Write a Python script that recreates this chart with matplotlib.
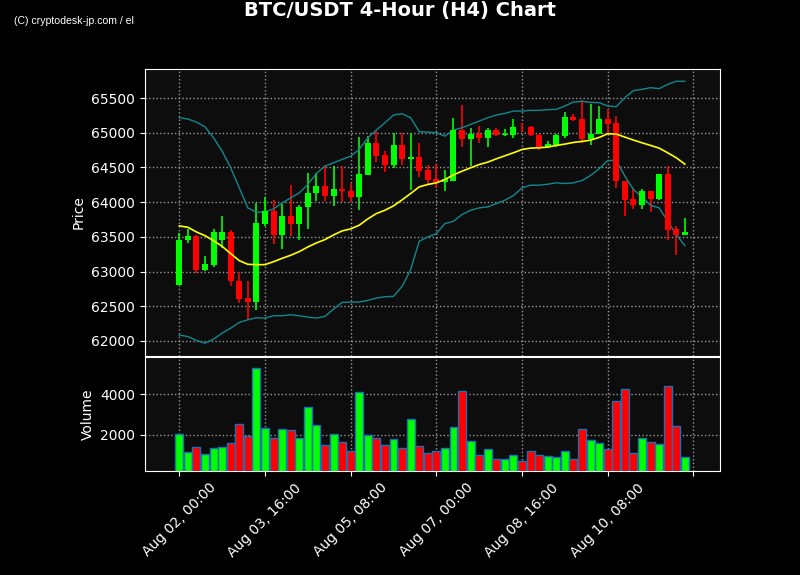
import matplotlib
matplotlib.use("Agg")
import matplotlib.pyplot as plt
import numpy as np

# ---- data ----
opens = [62810, 63450, 63517, 63027, 63099, 63450, 63575, 62868, 62622, 62555,
         63691, 63874, 63522, 63806, 63681, 63931, 64133, 64239, 64095, 64196,
         64157, 64071, 64388, 64846, 64672, 64533, 64817, 64624, 64643, 64456,
         64326, 64287, 64311, 65033, 64913, 64975, 64918, 65043, 64961, 64966,
         65086, 65086, 64966, 64797, 64817, 64951, 65231, 65192, 64903, 64975,
         65202, 65134, 64311, 64047, 63965, 64167, 64052, 64398, 63614, 63532]
closes = [63460, 63517, 63027, 63113, 63575, 63575, 62858, 62603, 62555, 63700,
          63874, 63522, 63806, 63681, 63936, 64133, 64239, 64095, 64196, 64157,
          64071, 64398, 64846, 64663, 64533, 64817, 64624, 64643, 64446, 64316,
          64287, 64326, 65033, 64913, 64975, 64918, 65043, 64971, 64975, 65086,
          65077, 64966, 64783, 64831, 64961, 65231, 65182, 64903, 64985, 65202,
          65120, 64302, 64037, 63965, 64167, 64052, 64398, 63604, 63532, 63570]
highs = [63556, 63614, 63520, 63229, 63614, 63806, 63594, 63000, 62863, 63989,
         64076, 64028, 63975, 64244, 63965, 64422, 64422, 64533, 64518, 64518,
         64278, 64932, 64951, 65024, 64735, 65000, 65000, 65000, 64846, 64533,
         64552, 64470, 65216, 65404, 65072, 65096, 65072, 65062, 65048, 65192,
         65144, 65096, 64975, 64874, 64985, 65303, 65274, 65471, 65409, 65385,
         65336, 65240, 64311, 64206, 64191, 64167, 64408, 64518, 63652, 63773]
lows = [62800, 63412, 62979, 63003, 63065, 63339, 62786, 62545, 62305, 62449,
        63652, 63402, 63325, 63517, 63460, 63614, 64013, 64013, 63951, 63999,
        63999, 63893, 64388, 64581, 64437, 64485, 64542, 64181, 64364, 64254,
        64210, 64157, 64311, 64797, 64518, 64855, 64793, 64951, 64951, 64927,
        65009, 64951, 64745, 64783, 64797, 64927, 65168, 64846, 64822, 64975,
        64990, 64206, 63797, 63902, 63902, 63854, 64037, 63450, 63243, 63532]
volumes = [2049, 1122, 1415, 1024, 1366, 1415, 1610, 2537, 1951, 5317,
           2341, 1821, 2293, 2211, 1854, 3366, 2488, 1512, 2049, 1659,
           1171, 4098, 2000, 1821, 1512, 1805, 1333, 2780, 1463, 1073,
           1220, 1366, 2390, 4146, 1707, 976, 1317, 780, 780, 976,
           683, 1220, 976, 927, 878, 1220, 780, 2293, 1756, 1610,
           1317, 3659, 4244, 1073, 1854, 1659, 1561, 4390, 2439, 878]
sma = [63657, 63638, 63570, 63517, 63445, 63363, 63258, 63157, 63104, 63099,
       63099, 63142, 63190, 63234, 63287, 63354, 63412, 63460, 63527, 63585,
       63614, 63667, 63758, 63835, 63883, 63946, 64032, 64124, 64220, 64254,
       64278, 64326, 64393, 64446, 64494, 64542, 64576, 64624, 64668, 64711,
       64759, 64778, 64783, 64793, 64817, 64836, 64860, 64874, 64894, 64932,
       64985, 64980, 64937, 64894, 64855, 64817, 64778, 64711, 64639, 64547]
upper = [65216, 65197, 65154, 65086, 64927, 64735, 64494, 64206, 63917, 63854,
         63859, 63902, 63989, 64061, 64133, 64254, 64412, 64518, 64567, 64615,
         64663, 64759, 64927, 65038, 65144, 65255, 65274, 65216, 65014, 65009,
         65000, 64951, 65038, 65072, 65120, 65168, 65216, 65255, 65279, 65312,
         65312, 65322, 65322, 65332, 65336, 65385, 65442, 65452, 65437, 65433,
         65385, 65375, 65505, 65606, 65625, 65649, 65635, 65697, 65741, 65741]
lower = [62084, 62064, 62007, 61968, 62026, 62112, 62184, 62266, 62305, 62334,
         62329, 62363, 62363, 62377, 62363, 62343, 62329, 62353, 62459, 62555,
         62560, 62560, 62584, 62618, 62637, 62642, 62786, 63027, 63436, 63498,
         63546, 63691, 63724, 63821, 63883, 63917, 63931, 63979, 64028, 64095,
         64206, 64244, 64244, 64258, 64278, 64268, 64278, 64311, 64384, 64480,
         64600, 64600, 64374, 64182, 64071, 63955, 63917, 63724, 63532, 63373]
tick_labels = ["Aug 02, 00:00", "Aug 03, 16:00", "Aug 05, 08:00",
               "Aug 07, 00:00", "Aug 08, 16:00", "Aug 10, 08:00", ""]
price_ticks = [62000, 62500, 63000, 63500, 64000, 64500, 65000, 65500]
volume_ticks = [2000, 4000]

# ---- styling ----
UP = "#00ff00"
DOWN = "#ff0000"
BAND = "#13878c"
GRID = dict(color="#b0b0b0", linestyle=":", linewidth=1.0, alpha=0.85)

fig = plt.figure(figsize=(8, 5.75), dpi=100, facecolor="black")
ax = fig.add_axes([0.18125, 0.381, 0.71875, 0.499])
axv = fig.add_axes([0.18125, 0.181, 0.71875, 0.198], sharex=ax)

o = np.array(opens, float)
c = np.array(closes, float)
h = np.array(highs, float)
l = np.array(lows, float)
x = np.arange(len(o))
up = c >= o
colors = np.where(up, UP, DOWN)

for a in (ax, axv):
    a.set_facecolor("#0d0d0d")
    for s in a.spines.values():
        s.set_color("white")
    a.tick_params(colors="white", labelsize=10)
    a.grid(True, **GRID)
    a.set_axisbelow(True)

# candles
ax.vlines(x, l, h, colors=colors, linewidth=1.2, zorder=2)
body_bottom = np.minimum(o, c)
body_h = np.maximum(np.abs(c - o), 8)
ax.bar(x, body_h, bottom=body_bottom, width=0.7, color=colors, linewidth=0, zorder=3)

ax.plot(x, upper, color=BAND, linewidth=1.0, zorder=2)
ax.plot(x, lower, color=BAND, linewidth=1.0, zorder=2)
ax.plot(x, sma, color="#ffff00", linewidth=1.2, zorder=4)

ax.set_ylim(61784, 65918)
ax.set_yticks(price_ticks)
ax.set_ylabel("Price", color="white", fontsize=10)
ax.tick_params(axis="x", labelbottom=False, length=0)

axv.bar(x, volumes, width=0.93, color=colors, edgecolor="#1f6fb4", linewidth=1.0, zorder=3)
axv.set_ylim(211, 5837)
axv.set_yticks(volume_ticks)
axv.set_ylabel("Volume", color="white", fontsize=10)

axv.set_xlim(-4.0, 63.1)
axv.set_xticks(np.arange(0, 61, 10))
axv.set_xticklabels(tick_labels, rotation=45, ha="center")

fig.text(0.5, 0.982, "BTC/USDT 4-Hour (H4) Chart", color="white", fontsize=14,
         fontweight="bold", ha="center", va="center")
fig.text(0.018, 0.963, "(C) cryptodesk-jp.com / el", color="white", fontsize=7.6,
         ha="left", va="center", family=["Liberation Sans", "DejaVu Sans"])

fig.savefig("out.png", dpi=100, facecolor="black")
